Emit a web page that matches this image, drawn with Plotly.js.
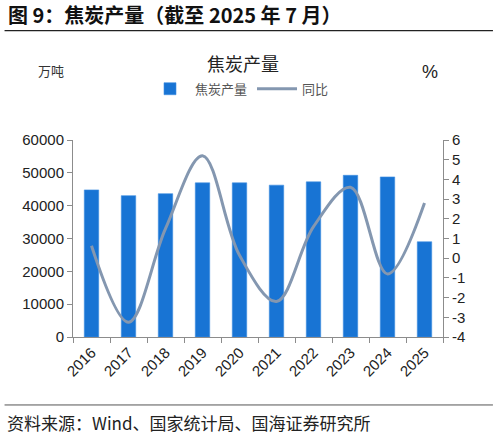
<!DOCTYPE html>
<html>
<head>
<meta charset="utf-8">
<script src="https://cdn.plot.ly/plotly-3.0.1.min.js"></script>
<style>
  html, body { margin: 0; padding: 0; background: #fff; }
  #chart { width: 498px; height: 437px; }
</style>
</head>
<body>
<div id="chart"></div>
<script>
// 焦炭产量（截至 2025 年 7 月）
const years = ['2016', '2017', '2018', '2019', '2020', '2021', '2022', '2023', '2024', '2025'];
const output = [44800, 43050, 43650, 46950, 46950, 46250, 47250, 49250, 48750, 29000];  // 万吨
const yoy = [0.63, -3.25, 1.5, 5.2, 0.15, -2.2, 1.6, 3.6, -0.8, 2.8];                      // %

// right axis labels use a plain hyphen like the source chart
const pctTicks = [-4, -3, -2, -1, 0, 1, 2, 3, 4, 5, 6];
const pctLabels = ['-4', '-3', '-2', '-1', '0', '1', '2', '3', '4', '5', '6'];

const cjk = '"Noto Sans CJK SC", sans-serif';
const latin = '"Liberation Sans", Arial, sans-serif';

let barTrace = {
    name: '焦炭产量',
    type: 'bar',
    x: years,
    y: output,
    marker: { color: '#1874d4', line: { color: '#3f8fe0', width: 0.6 } },
};

let lineTrace = {
    name: '同比',
    type: 'scatter',
    mode: 'lines',
    x: years,
    y: yoy,
    yaxis: 'y2',
    line: { color: '#8497b0', width: 3, shape: 'spline', smoothing: 1 },
};

let layout = {
    width: 498,
    height: 437,
    margin: { l: 73, r: 55, t: 140, b: 100 },
    paper_bgcolor: '#fff',
    plot_bgcolor: '#fff',
    font: { family: latin, size: 15, color: '#222' },
    bargap: 0.61,
    showlegend: true,
    legend: {
        orientation: 'h',
        x: 0.45, xanchor: 'center',
        y: 1.26, yanchor: 'middle',
        font: { family: cjk, size: 13, color: '#555' },
        itemwidth: 40,
        traceorder: 'normal',
    },
    xaxis: {
        type: 'category',
        showline: true,
        linecolor: '#8c8c8c',
        linewidth: 1,
        ticks: 'outside',
        tickson: 'boundaries',
        ticklen: 5,
        tickcolor: '#8c8c8c',
        tickangle: -45,
        tickfont: { family: latin, size: 15, color: '#222' },
        showgrid: false,
        zeroline: false,
    },
    yaxis: {
        range: [0, 60000],
        dtick: 10000,
        showline: true,
        linecolor: '#8c8c8c',
        ticks: 'outside',
        ticklen: 5,
        tickcolor: '#8c8c8c',
        showgrid: false,
        zeroline: false,
        tickformat: 'd',
        tickfont: { family: latin, size: 15, color: '#222' },
    },
    yaxis2: {
        overlaying: 'y',
        side: 'right',
        range: [-4, 6],
        tickmode: 'array',
        tickvals: pctTicks,
        ticktext: pctLabels,
        showline: true,
        linecolor: '#8c8c8c',
        ticks: 'outside',
        ticklen: 5,
        tickcolor: '#8c8c8c',
        showgrid: false,
        zeroline: false,
        tickfont: { family: latin, size: 15, color: '#222' },
    },
    shapes: [
        { type: 'line', xref: 'paper', yref: 'paper', x0: -0.185, x1: 1.135, y0: 1.555, y1: 1.555,
          line: { color: '#222', width: 1.2 } },
        { type: 'line', xref: 'paper', yref: 'paper', x0: -0.185, x1: 1.135, y0: -0.345, y1: -0.345,
          line: { color: '#555', width: 1 } },
    ],
    annotations: [
        { text: '<b>图 9：焦炭产量（截至 2025 年 7 月）</b>', xref: 'paper', yref: 'paper',
          x: -0.18, y: 1.635, xanchor: 'left', yanchor: 'middle', showarrow: false,
          font: { family: cjk, size: 20, color: '#111' } },
        { text: '焦炭产量', xref: 'paper', yref: 'paper',
          x: 0.46, y: 1.39, xanchor: 'center', yanchor: 'middle', showarrow: false,
          font: { family: cjk, size: 18, color: '#222' } },
        { text: '万吨', xref: 'paper', yref: 'paper',
          x: -0.06, y: 1.355, xanchor: 'center', yanchor: 'middle', showarrow: false,
          font: { family: cjk, size: 13, color: '#333' } },
        { text: '%', xref: 'paper', yref: 'paper',
          x: 0.965, y: 1.345, xanchor: 'center', yanchor: 'middle', showarrow: false,
          font: { family: latin, size: 18, color: '#222' } },
        { text: '资料来源：Wind、国家统计局、国海证券研究所', xref: 'paper', yref: 'paper',
          x: -0.185, y: -0.435, xanchor: 'left', yanchor: 'middle', showarrow: false,
          font: { family: cjk, size: 17, color: '#222' } },
    ],
};

Plotly.newPlot('chart', [barTrace, lineTrace], layout, { displayModeBar: false, staticPlot: true });
</script>
</body>
</html>
